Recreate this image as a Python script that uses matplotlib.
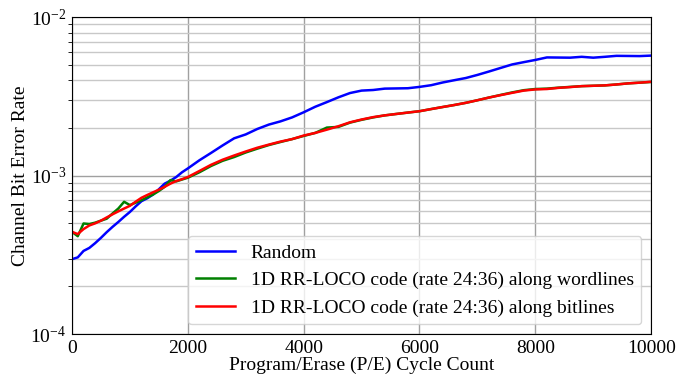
import matplotlib
matplotlib.use("Agg")
import matplotlib.pyplot as plt
import numpy as np

plt.rcParams['font.family'] = ['Liberation Serif', 'DejaVu Serif']
plt.rcParams['mathtext.fontset'] = 'stix'
plt.rcParams['font.size'] = 14

# P/E cycle grid (100 step up to 2000, then 200 step)
pe_cycles = list(range(0, 2000, 100)) + list(range(2000, 10001, 200))

# bit error rates, in units of 1e-4
ber_random = [2.97, 3.05, 3.35, 3.5, 3.75, 4.05, 4.4, 4.75, 5.1, 5.5,
              5.9, 6.4, 6.9, 7.2, 7.6, 8.2, 8.9, 9.3, 9.8, 10.5,
              11.1, 12.5, 13.9, 15.5, 17.2, 18.2, 19.7, 21.0, 22.0, 23.3,
              25.1, 27.2, 29.1, 31.2, 33.2, 34.4, 34.7, 35.4, 35.5, 35.6,
              36.3, 37.2, 38.7, 40.0, 41.3, 43.2, 45.4, 47.8, 50.3, 52.0,
              53.7, 55.7, 55.6, 55.5, 56.2, 55.5, 56.2, 57.0, 56.9, 56.8,
              57.2]
ber_wordlines = [4.42, 4.15, 4.99, 4.95, 5.05, 5.2, 5.35, 5.77, 6.2, 6.84,
                 6.52, 6.75, 7.0, 7.3, 7.6, 8.0, 8.5, 9.37, 9.2, 9.45,
                 9.7, 10.5, 11.5, 12.4, 13.1, 14.0, 14.8, 15.6, 16.3, 17.0,
                 17.8, 18.6, 20.1, 20.3, 21.6, 22.5, 23.3, 24.0, 24.5, 25.0,
                 25.5, 26.3, 27.1, 27.9, 28.8, 29.9, 31.1, 32.3, 33.5, 34.6,
                 35.2, 35.4, 35.9, 36.3, 36.7, 36.9, 37.1, 37.6, 38.2, 38.6,
                 39.0]
ber_bitlines = [4.42, 4.28, 4.6, 4.85, 5.0, 5.2, 5.45, 5.7, 5.95, 6.2,
                6.45, 6.85, 7.25, 7.55, 7.85, 8.15, 8.5, 8.9, 9.25, 9.5,
                9.8, 10.7, 11.7, 12.6, 13.4, 14.2, 15.0, 15.7, 16.4, 17.0,
                17.9, 18.6, 19.5, 20.5, 21.7, 22.6, 23.4, 24.0, 24.5, 25.0,
                25.5, 26.3, 27.1, 27.9, 28.8, 29.9, 31.1, 32.2, 33.3, 34.4,
                35.0, 35.2, 35.8, 36.2, 36.7, 36.9, 37.1, 37.6, 38.2, 38.6,
                39.1]

labels = ['Random',
          '1D RR-LOCO code (rate 24:36) along wordlines',
          '1D RR-LOCO code (rate 24:36) along bitlines']

fig = plt.figure(figsize=(6.92, 3.81), dpi=100)
ax = fig.add_axes([0.104, 0.123, 0.837, 0.832])

ax.plot(pe_cycles, np.array(ber_random) * 1e-4, color='blue', lw=1.8, label=labels[0])
ax.plot(pe_cycles, np.array(ber_wordlines) * 1e-4, color='green', lw=1.8, label=labels[1])
ax.plot(pe_cycles, np.array(ber_bitlines) * 1e-4, color='red', lw=1.8, label=labels[2])

ax.set_yscale('log')
ax.set_xlim(0, 10000)
ax.set_ylim(1e-4, 1e-2)
ax.set_xticks([0, 2000, 4000, 6000, 8000, 10000])
ax.grid(which='major', color='#a0a0a0', lw=1.0)
ax.grid(which='minor', axis='y', color='#c8c8c8', lw=1.0)
ax.tick_params(which='major', length=0, pad=4)
ax.tick_params(which='minor', length=3)

ax.set_xlabel('Program/Erase (P/E) Cycle Count', labelpad=0)
ax.set_ylabel('Channel Bit Error Rate', labelpad=1)
ax.legend(loc='lower right')

fig.savefig('out.png', dpi=100)
